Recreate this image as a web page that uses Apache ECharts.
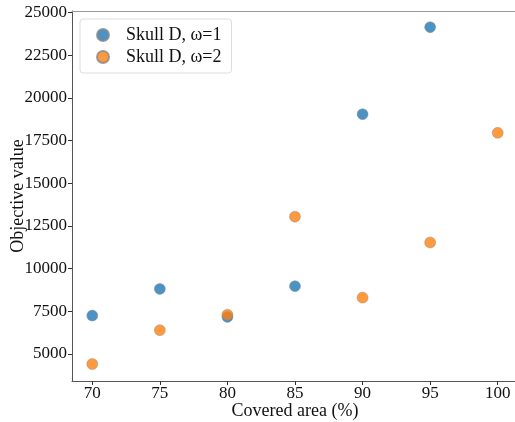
<!DOCTYPE html>
<html>
<head>
<meta charset="utf-8">
<script src="https://cdn.jsdelivr.net/npm/echarts@6/dist/echarts.min.js"></script>
<style>html,body{margin:0;padding:0;background:#fff}#c{width:515px;height:422px}</style>
</head>
<body>
<div id="c"></div>
<script>
const coveredArea1 = [70, 75, 80, 85, 90, 95];
const objective1 = [7250, 8810, 7170, 8970, 19040, 24140];
const coveredArea2 = [70, 75, 80, 85, 90, 95, 100];
const objective2 = [4410, 6390, 7300, 13040, 8300, 11530, 17950];
const seriesNames = ['Skull D, \u03c9=1', 'Skull D, \u03c9=2'];
const xTicks = [70, 75, 80, 85, 90, 95, 100];
const yTicks = [5000, 7500, 10000, 12500, 15000, 17500, 20000, 22500, 25000];

const FONT = '"Liberation Serif", "DejaVu Serif", serif';
const FS = 18;
const TFS = 17;
const chart = echarts.init(document.getElementById('c'), null, {renderer: 'canvas'});
const pair = (xs, ys) => xs.map((x, i) => [x, ys[i]]);
chart.setOption({
  animation: false,
  backgroundColor: '#fff',
  grid: {left: 72, top: 11, width: 446, bottom: 41, containLabel: false, outerBoundsMode: 'none'},
  legend: {
    left: 80, top: 19,
    orient: 'vertical',
    backgroundColor: '#fff',
    borderColor: '#ddd', borderWidth: 1, borderRadius: 3,
    padding: [7, 10, 7, 16],
    itemGap: 4,
    itemWidth: 12, itemHeight: 12,
    textStyle: {fontFamily: FONT, fontSize: FS, color: '#111', padding: [0, 0, 0, 12]},
    data: seriesNames.map(n => ({name: n, icon: 'circle'}))
  },
  xAxis: [{
    type: 'value', min: 68.5, max: 101.5,
    axisLabel: {fontFamily: FONT, fontSize: TFS, color: '#111', margin: 4,
      customValues: xTicks, formatter: v => String(v)},
    axisTick: {show: true, length: 4, lineStyle: {color: '#333'}, customValues: xTicks},
    axisLine: {show: true, onZero: false, lineStyle: {color: '#555'}},
    splitLine: {show: false},
    name: 'Covered area (%)', nameLocation: 'middle', nameGap: 21, nameMoveOverlap: false,
    nameTextStyle: {fontFamily: FONT, fontSize: FS, color: '#111'}
  }, {
    type: 'value', position: 'top', min: 68.5, max: 101.5,
    axisLabel: {show: false}, axisTick: {show: false}, splitLine: {show: false},
    axisLine: {show: true, onZero: false, lineStyle: {color: '#999'}}
  }],
  yAxis: {
    type: 'value', min: 3415, max: 25085,
    axisLabel: {fontFamily: FONT, fontSize: TFS, color: '#111', margin: 5,
      customValues: yTicks, formatter: v => String(v)},
    axisTick: {show: true, length: 4, lineStyle: {color: '#333'}, customValues: yTicks},
    axisLine: {show: true, onZero: false, lineStyle: {color: '#555'}},
    splitLine: {show: false},
    name: 'Objective value', nameLocation: 'middle', nameGap: 45, nameRotate: 90, nameMoveOverlap: false,
    nameTextStyle: {fontFamily: FONT, fontSize: FS, color: '#111'}
  },
  series: [{
    name: seriesNames[0], type: 'scatter', symbolSize: 11,
    data: pair(coveredArea1, objective1),
    itemStyle: {color: '#1f77b4', opacity: 0.8, borderColor: '#888', borderWidth: 0.5}
  }, {
    name: seriesNames[1], type: 'scatter', symbolSize: 11,
    data: pair(coveredArea2, objective2),
    itemStyle: {color: '#ff7f0e', opacity: 0.8, borderColor: '#888', borderWidth: 0.5}
  }]
});
</script>
</body>
</html>
